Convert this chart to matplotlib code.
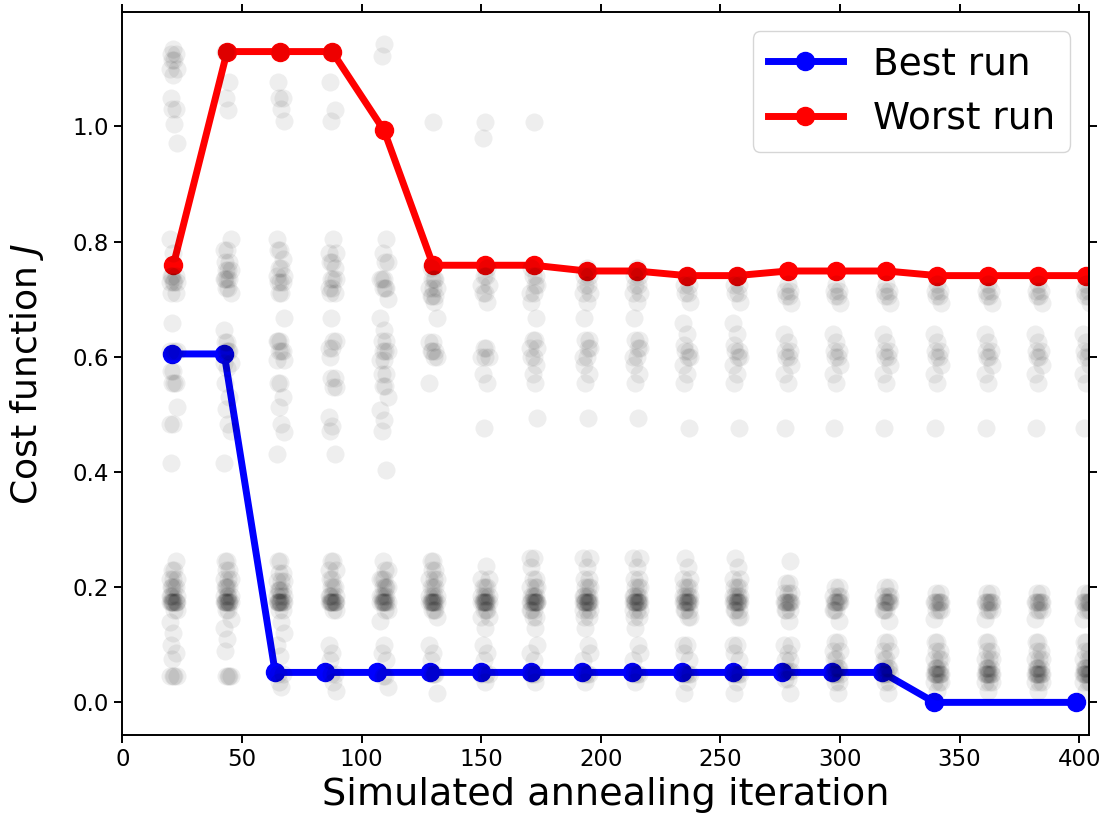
import numpy as np
import matplotlib
matplotlib.use('Agg')
import matplotlib.pyplot as plt

# best / worst run
best_x = [20.9, 42.6, 63.9, 84.8, 106.5, 128.6, 149.9, 170.8, 192.0, 212.9,
          233.8, 255.1, 275.9, 296.8, 317.7, 339.5, 398.7]
best_y = [0.605, 0.605, 0.052, 0.052, 0.052, 0.052, 0.052, 0.052, 0.052, 0.052,
          0.052, 0.052, 0.052, 0.052, 0.052, 0.0, 0.0]

worst_x = [21.3, 43.8, 66.0, 87.7, 109.4, 129.9, 151.6, 172.0, 194.1, 215.0,
           235.9, 256.8, 278.1, 298.5, 319.4, 340.7, 362.0, 382.9, 403.0]
worst_y = [0.759, 1.13, 1.13, 1.13, 0.993, 0.759, 0.759, 0.759, 0.749, 0.749,
           0.741, 0.741, 0.749, 0.749, 0.749, 0.741, 0.741, 0.741, 0.741]

# all runs: (cost, how many runs) per iteration column
col_x = worst_x

mid_a = [(0.755, 1), (0.74, 2), (0.725, 2), (0.71, 2), (0.695, 1), (0.667, 1), (0.63, 2),
         (0.615, 2), (0.6, 2), (0.585, 1), (0.57, 1), (0.554, 1), (0.493, 1)]
low_a = [(0.25, 2), (0.235, 1), (0.215, 2), (0.2, 3), (0.185, 4), (0.174, 9), (0.16, 3),
         (0.148, 2), (0.13, 1), (0.1, 1), (0.085, 1), (0.073, 1), (0.05, 3), (0.035, 1)]
mid_b = [(0.74, 1), (0.725, 2), (0.71, 2), (0.695, 1), (0.658, 1), (0.64, 1), (0.62, 1),
         (0.61, 2), (0.6, 2), (0.585, 1), (0.57, 1), (0.554, 1), (0.476, 1)]
low_b = [(0.25, 1), (0.235, 1), (0.215, 2), (0.2, 3), (0.185, 4), (0.174, 8), (0.16, 3),
         (0.148, 2), (0.1, 2), (0.085, 1), (0.073, 1), (0.05, 4), (0.035, 1), (0.016, 1)]
mid_c = [(0.727, 1), (0.715, 2), (0.705, 2), (0.693, 1), (0.64, 1), (0.625, 1), (0.61, 2),
         (0.6, 2), (0.585, 1), (0.57, 1), (0.554, 1), (0.476, 1)]
low_c13 = [(0.246, 1), (0.207, 2), (0.19, 3), (0.174, 7), (0.16, 3), (0.142, 1), (0.1, 2),
           (0.085, 1), (0.073, 2), (0.055, 4), (0.04, 2), (0.016, 1)]
low_c14 = [(0.2, 2), (0.185, 3), (0.174, 6), (0.16, 3), (0.142, 1), (0.105, 2), (0.09, 2),
           (0.075, 2), (0.06, 3), (0.05, 4), (0.035, 2), (0.016, 1)]
low_c16 = [(0.19, 2), (0.174, 6), (0.16, 3), (0.145, 1), (0.105, 2), (0.09, 2), (0.075, 3),
           (0.06, 4), (0.05, 7), (0.035, 3), (0.02, 1)]

col1 = [(1.135, 1), (1.125, 2), (1.115, 2), (1.10, 2), (1.09, 1), (1.05, 1), (1.03, 2),
        (1.005, 1), (0.972, 1), (0.805, 1), (0.78, 1), (0.74, 3), (0.73, 4), (0.71, 2),
        (0.658, 1), (0.61, 3), (0.575, 2), (0.555, 3), (0.512, 1), (0.484, 2), (0.415, 1),
        (0.245, 1), (0.23, 2), (0.215, 3), (0.2, 4), (0.185, 4), (0.174, 9), (0.16, 2),
        (0.14, 1), (0.12, 1), (0.1, 1), (0.085, 1), (0.075, 1), (0.045, 4)]
col2 = [(1.13, 2), (1.077, 1), (1.05, 1), (1.028, 1), (0.805, 1), (0.785, 2), (0.765, 2),
        (0.75, 3), (0.735, 4), (0.72, 2), (0.71, 1), (0.646, 1), (0.625, 2), (0.61, 3),
        (0.59, 2), (0.58, 1), (0.554, 1), (0.53, 1), (0.51, 1), (0.484, 1), (0.472, 1),
        (0.415, 1), (0.245, 2), (0.23, 2), (0.215, 3), (0.2, 4), (0.185, 4), (0.174, 9),
        (0.16, 2), (0.145, 1), (0.13, 1), (0.11, 1), (0.09, 1), (0.045, 4)]
col3 = [(1.13, 1), (1.077, 1), (1.05, 2), (1.03, 1), (1.01, 1), (0.805, 1), (0.785, 2),
        (0.77, 1), (0.755, 2), (0.74, 2), (0.73, 3), (0.71, 2), (0.668, 1), (0.628, 3),
        (0.61, 3), (0.595, 2), (0.554, 2), (0.53, 1), (0.512, 1), (0.484, 1), (0.47, 1),
        (0.432, 1), (0.245, 2), (0.225, 2), (0.21, 3), (0.195, 4), (0.185, 3), (0.174, 9),
        (0.16, 2), (0.14, 1), (0.12, 1), (0.1, 1), (0.08, 1), (0.05, 2), (0.035, 1), (0.026, 1)]
col4 = [(1.13, 1), (1.077, 1), (1.028, 1), (1.01, 1), (0.805, 1), (0.78, 2), (0.765, 2),
        (0.755, 1), (0.735, 3), (0.72, 2), (0.71, 2), (0.668, 1), (0.628, 2), (0.615, 2),
        (0.6, 1), (0.564, 2), (0.547, 2), (0.495, 1), (0.48, 1), (0.472, 1), (0.432, 1),
        (0.245, 2), (0.23, 2), (0.215, 2), (0.2, 3), (0.185, 4), (0.174, 9), (0.16, 2),
        (0.1, 1), (0.085, 1), (0.073, 1), (0.05, 2), (0.035, 1), (0.02, 1)]
col5 = [(1.144, 1), (1.123, 1), (0.805, 1), (0.78, 1), (0.765, 2), (0.735, 3), (0.72, 3),
        (0.7, 1), (0.668, 1), (0.646, 1), (0.628, 2), (0.61, 3), (0.594, 2), (0.57, 2),
        (0.55, 2), (0.53, 1), (0.507, 1), (0.49, 1), (0.472, 1), (0.403, 1),
        (0.245, 1), (0.23, 2), (0.215, 3), (0.2, 4), (0.185, 4), (0.174, 8), (0.16, 2),
        (0.142, 1), (0.1, 1), (0.085, 1), (0.073, 1), (0.045, 2), (0.026, 1)]
col6 = [(1.008, 1), (0.755, 1), (0.735, 3), (0.72, 3), (0.705, 3), (0.695, 1), (0.667, 1),
        (0.625, 2), (0.61, 3), (0.6, 2), (0.554, 1),
        (0.245, 2), (0.23, 2), (0.215, 3), (0.2, 3), (0.185, 4), (0.174, 9), (0.16, 3),
        (0.148, 1), (0.1, 1), (0.085, 1), (0.073, 1), (0.05, 3), (0.016, 1)]
col7 = [(1.008, 1), (0.98, 1), (0.755, 1), (0.74, 2), (0.725, 2), (0.71, 2), (0.695, 1),
        (0.615, 2), (0.6, 3), (0.57, 1), (0.554, 1), (0.476, 1),
        (0.236, 1), (0.215, 2), (0.2, 3), (0.185, 4), (0.174, 9), (0.16, 3), (0.148, 2),
        (0.13, 1), (0.1, 1), (0.085, 1), (0.073, 1), (0.05, 3), (0.035, 1)]
col8 = [(1.008, 1)] + mid_a + low_a

columns = [col1, col2, col3, col4, col5, col6, col7, col8,
           mid_a + low_a, mid_a + low_a, mid_b + low_b, mid_b + low_b,
           mid_c + low_c13, mid_c + low_c14, mid_c + low_c14,
           mid_c + low_c16, mid_c + low_c16, mid_c + low_c16, mid_c + low_c16]

jitter = [0.0, -1.0, 1.0, -0.5, 0.5, 1.5, -1.5]

fig = plt.figure(figsize=(11.02, 8.27), dpi=100)
ax = fig.add_axes([0.111, 0.111, 0.877, 0.874])

ax.plot(best_x, best_y, '-o', color='#0000ff', lw=5, ms=13, label='Best run', zorder=2)
ax.plot(worst_x, worst_y, '-o', color='#ff0000', lw=5, ms=13, label='Worst run', zorder=2)

gx, gy = [], []
for cx, col in zip(col_x, columns):
    n = 0
    for val, cnt in col:
        for _ in range(cnt):
            gx.append(cx + jitter[n % len(jitter)])
            gy.append(val)
            n += 1
ax.plot(gx, gy, 'o', color='k', alpha=0.065, ms=13, mec='none', zorder=3)

ax.set_xlim(0, 404)
ax.set_ylim(-0.057, 1.198)
ax.set_xticks(np.arange(0, 401, 50))
ax.set_yticks(np.arange(0, 1.01, 0.2))
ax.tick_params(direction='out', length=6, width=1.4, labelsize=16.5,
               top=True, right=True)
for s in ax.spines.values():
    s.set_linewidth(1.4)

ax.set_xlabel('Simulated annealing iteration', fontsize=27.5)
ax.set_ylabel('Cost function $J$', fontsize=26, labelpad=19)
ax.legend(loc='upper right', fontsize=27, borderaxespad=0.5)

fig.savefig('out.png', dpi=100)
